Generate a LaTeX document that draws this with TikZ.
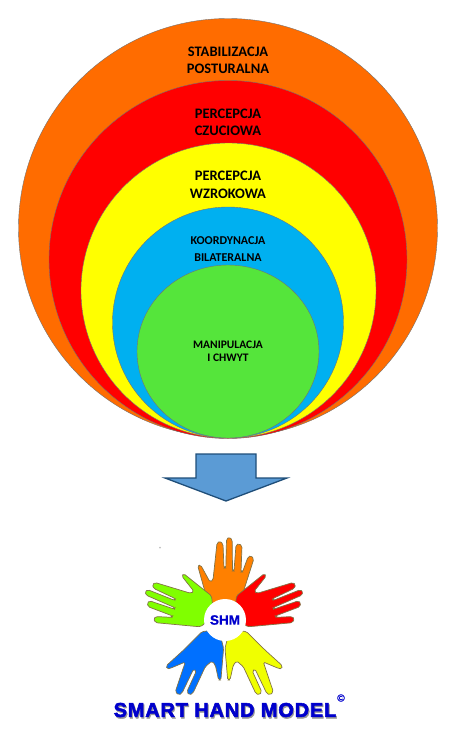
\documentclass[tikz,border=0pt]{standalone}
\usepackage{fontspec}
\setmainfont{Carlito}
\newfontfamily\logofont[FakeBold=1.2]{Liberation Sans}
\newfontfamily\titlefont[FakeBold=2.6,LetterSpace=4]{Liberation Sans}
\usepackage{xcolor}
\usetikzlibrary{shapes.geometric}
\definecolor{ringorange}{RGB}{255,108,0}
\definecolor{ringred}{RGB}{255,0,0}
\definecolor{ringyellow}{RGB}{255,255,0}
\definecolor{ringblue}{RGB}{0,176,240}
\definecolor{ringgreen}{RGB}{85,229,59}
\definecolor{arrowfill}{RGB}{91,155,213}
\definecolor{arrowline}{RGB}{31,78,121}
\definecolor{handline}{RGB}{130,115,70}
\definecolor{handorange}{RGB}{255,128,0}
\definecolor{handyellow}{RGB}{240,255,0}
\definecolor{handblue}{RGB}{0,112,255}
\definecolor{handgreen}{RGB}{128,255,0}
\definecolor{logoblue}{RGB}{0,0,204}
\tikzset{
    pics/upperhand/.style={code={
        \draw[pic actions, draw=handline, line width=0.7pt, rounded corners=1.6pt]
            (-17.7,-20) -- (-27.3,-54.3) -- (-24.3,-55) -- (-15,-38) -- (-12,-40)
            -- (-8,-77) -- (-5,-79) -- (-2,-76) -- (-1,-52) -- (0.8,-52)
            -- (1.5,-81) -- (4.5,-83) -- (7.2,-80) -- (7.5,-49) -- (9,-49)
            -- (11,-75) -- (14,-76.5) -- (17,-74) -- (16,-48) -- (17.5,-48)
            -- (23,-63) -- (26,-64.5) -- (28.8,-61) -- (17,-24) -- (15,-18)
            -- (0,-10) -- cycle;
    }},
    pics/lowerhand/.style={code={
        \draw[pic actions, draw=handline, line width=0.7pt, rounded corners=1.6pt]
            (21.7,11.7) -- (40,30) -- (57.3,45.7) -- (56.7,49) -- (53.3,48.3)
            -- (38.3,42) -- (48.3,71.7) -- (45,75) -- (41.7,73.3) -- (30,49) -- (27.3,51)
            -- (36.7,71.7) -- (34.3,75) -- (30.7,73.3) -- (18.3,46.7) -- (11.7,41)
            -- (8.3,45) -- (5,60) -- (2.7,60) -- (0,28.3) -- (3.3,15) -- (10,10) -- cycle;
    }}
}
\begin{document}
\begin{tikzpicture}[x=1pt, y=-1pt,
    ring/.style={circle, draw=black!55, line width=0.4pt, inner sep=0pt},
    ringtext/.style={align=center, font=\fontsize{14.5}{17.5}\selectfont\bfseries, text=black},
    smalltext/.style={align=center, font=\fontsize{12}{17}\selectfont\bfseries, text=black}]

    \useasboundingbox (0,0) rectangle (457,737);

    % Rings
    \node[ring, fill=ringorange, minimum size=419pt] (orangering) at (228,228) {};
    \node[ring, fill=ringred, minimum size=358pt] (redring) at (228,259.5) {};
    \node[ring, fill=ringyellow, minimum size=295pt] (yellowring) at (228.5,290.5) {};
    \node[ring, fill=ringblue, minimum size=231pt] (bluering) at (228,322.5) {};
    \node[ring, ellipse, fill=ringgreen, minimum width=182pt, minimum height=173pt] (greenring) at (228,351.5) {};

    % Ring labels
    \node[ringtext] (stabilizacja) at (228,60.5) {STABILIZACJA\\POSTURALNA};
    \node[ringtext] (czuciowa) at (228,122.5) {PERCEPCJA\\CZUCIOWA};
    \node[ringtext] (wzrokowa) at (228,185) {PERCEPCJA\\WZROKOWA};
    \node[smalltext] (bilateralna) at (228,249.5) {KOORDYNACJA\\BILATERALNA};
    \node[smalltext, font=\fontsize{11.5}{13.5}\selectfont\bfseries] (chwyt) at (228,351.5) {MANIPULACJA\\I CHWYT};

    % Arrow
    \draw[fill=arrowfill, draw=arrowline, line width=1.3pt, line join=miter]
        (196,454) -- (256,454) -- (256,478) -- (287,478) -- (226,501) -- (165,478) -- (196,478) -- cycle;

    % Logo
    \fill[black!25] (160,547.5) circle (1pt);
    \pic[fill=handorange] at (225,620) {upperhand};
    \pic[fill=ringred, rotate=-67] at (225,620) {upperhand};
    \pic[fill=handgreen, xscale=-1, rotate=-67] at (223,620) {upperhand};
    \pic[fill=handyellow] at (225,620) {lowerhand};
    \pic[fill=handblue, xscale=-1] at (223.6,620) {lowerhand};
    \node[circle, fill=white, minimum size=42pt, inner sep=0pt, text=logoblue,
        font=\fontsize{13.5}{14}\selectfont\logofont\bfseries] (shm) at (225,620) {SHM};

    % Logo title
    \node[text=black!40, font=\fontsize{20}{21}\selectfont\titlefont\bfseries, inner sep=0pt] (titleshadow) at (226,711.5) {SMART HAND MODEL};
    \node[text=logoblue, font=\fontsize{20}{21}\selectfont\titlefont\bfseries, inner sep=0pt] (title) at (225,710) {SMART HAND MODEL};
    \node[text=logoblue, font=\fontsize{10}{10}\selectfont\logofont, inner sep=0pt] (copyright) at (341,698) {©};
\end{tikzpicture}
\end{document}
